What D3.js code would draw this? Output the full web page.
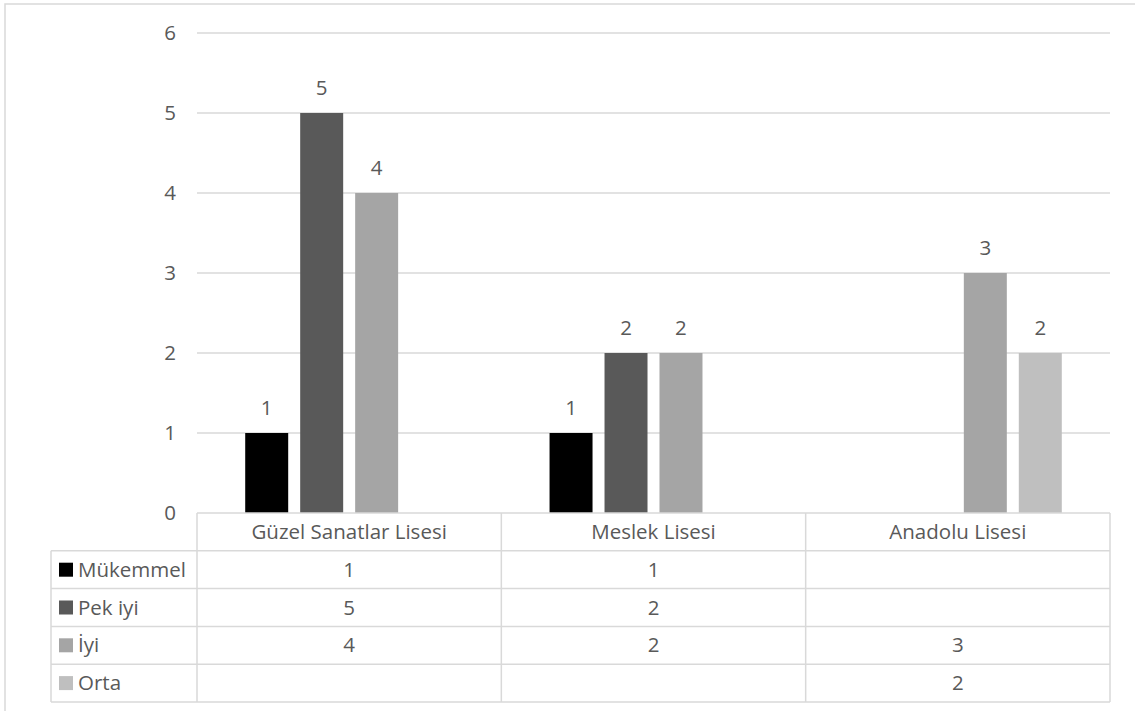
<!DOCTYPE html>
<html><head><meta charset="utf-8">
<script src="https://cdn.jsdelivr.net/npm/d3@7"></script>
<style>body{margin:0;background:#fff}svg{display:block}text{font-family:"Open Sans",Lato,sans-serif;fill:#595959}</style>
</head><body>
<svg id="c" width="1135" height="711"></svg>
<script>
const categories = ["Güzel Sanatlar Lisesi", "Meslek Lisesi", "Anadolu Lisesi"];
const series = ["Mükemmel", "Pek iyi", "İyi", "Orta"];
const mukemmel = [1, 1, null];
const pekIyi = [5, 2, null];
const iyi = [4, 2, 3];
const orta = [null, null, 2];
const yTicks = [0, 1, 2, 3, 4, 5, 6];
const colors = ["#000000", "#595959", "#a5a5a5", "#bfbfbf"];

const values = [mukemmel, pekIyi, iyi, orta];
const svg = d3.select("#c");
const grid = "#d9d9d9";
const fs = 20.5;

// outer border
svg.append("rect").attr("x",5).attr("y",4).attr("width",1140).attr("height",720)
  .attr("fill","none").attr("stroke",grid).attr("stroke-width",1.5);

const pLeft = 197, pRight = 1110, pTop = 33, pBottom = 513;
const x0 = d3.scaleBand().domain(categories).range([pLeft, pRight]);
const x1 = d3.scaleBand().domain(series).range([0, x0.bandwidth()]).paddingInner(0.218).paddingOuter(0.877);
const y = d3.scaleLinear().domain([0, 6]).range([pBottom, pTop]);

// gridlines
svg.append("g").selectAll("line").data(yTicks.filter(d=>d>0)).join("line")
  .attr("x1", pLeft).attr("x2", pRight).attr("y1", d=>y(d)).attr("y2", d=>y(d))
  .attr("stroke", grid).attr("stroke-width", 1.5);

// y axis labels via d3 axis
const yAxis = svg.append("g").attr("transform",`translate(${pLeft-21},0)`)
  .call(d3.axisLeft(y).tickValues(yTicks).tickSize(0).tickPadding(0).tickFormat(d3.format("d")));
yAxis.select(".domain").remove();
yAxis.selectAll("text").attr("font-size", fs).attr("font-family","'Open Sans',Lato,sans-serif").attr("fill","#595959");

// bars
const bars = [];
series.forEach((s, si) => categories.forEach((c, ci) => {
  const v = values[si][ci];
  if (v != null) bars.push({s, si, c, v});
}));
svg.append("g").selectAll("rect").data(bars).join("rect")
  .attr("x", d => x0(d.c) + x1(d.s)).attr("width", x1.bandwidth())
  .attr("y", d => y(d.v)).attr("height", d => y(0) - y(d.v))
  .attr("fill", d => colors[d.si]);
svg.append("g").selectAll("text").data(bars).join("text")
  .attr("x", d => x0(d.c) + x1(d.s) + x1.bandwidth()/2).attr("y", d => y(d.v) - 25)
  .attr("text-anchor","middle").attr("dy","0.35em").attr("font-size", fs).text(d => d.v);

// data table
const rowH = 37.8;
const tableLeft = 51;
const tg = svg.append("g").attr("stroke", grid).attr("stroke-width", 1.5).attr("fill","none");
tg.append("line").attr("x1", pLeft).attr("x2", pRight).attr("y1", pBottom).attr("y2", pBottom);
series.forEach((s, i) => {
  const yy = pBottom + rowH*(i+1);
  tg.append("line").attr("x1", tableLeft).attr("x2", pRight).attr("y1", yy).attr("y2", yy);
});
const tBottom = pBottom + rowH*5;
tg.append("line").attr("x1", tableLeft).attr("x2", pRight).attr("y1", tBottom).attr("y2", tBottom);
tg.append("line").attr("x1", tableLeft).attr("x2", tableLeft).attr("y1", pBottom+rowH).attr("y2", tBottom);
const vx = categories.map(c => x0(c)).concat([pRight]);
vx.forEach(xx => tg.append("line").attr("x1", xx).attr("x2", xx).attr("y1", pBottom).attr("y2", tBottom));

// header labels
svg.append("g").selectAll("text").data(categories).join("text")
  .attr("x", c => x0(c) + x0.bandwidth()/2).attr("y", pBottom + rowH/2).attr("dy","0.35em")
  .attr("text-anchor","middle").attr("font-size", fs).text(c => c);

// row labels with legend keys
series.forEach((s, i) => {
  const cy = pBottom + rowH*(i+1) + rowH/2;
  svg.append("rect").attr("x", 59).attr("y", cy - 7).attr("width", 14).attr("height", 14).attr("fill", colors[i]);
  svg.append("text").attr("x", 78).attr("y", cy).attr("dy","0.35em").attr("font-size", fs).text(s);
  categories.forEach((c, ci) => {
    const v = values[i][ci];
    if (v != null) svg.append("text").attr("x", x0(c) + x0.bandwidth()/2).attr("y", cy).attr("dy","0.35em")
      .attr("text-anchor","middle").attr("font-size", fs).text(v);
  });
});
</script>
</body></html>
